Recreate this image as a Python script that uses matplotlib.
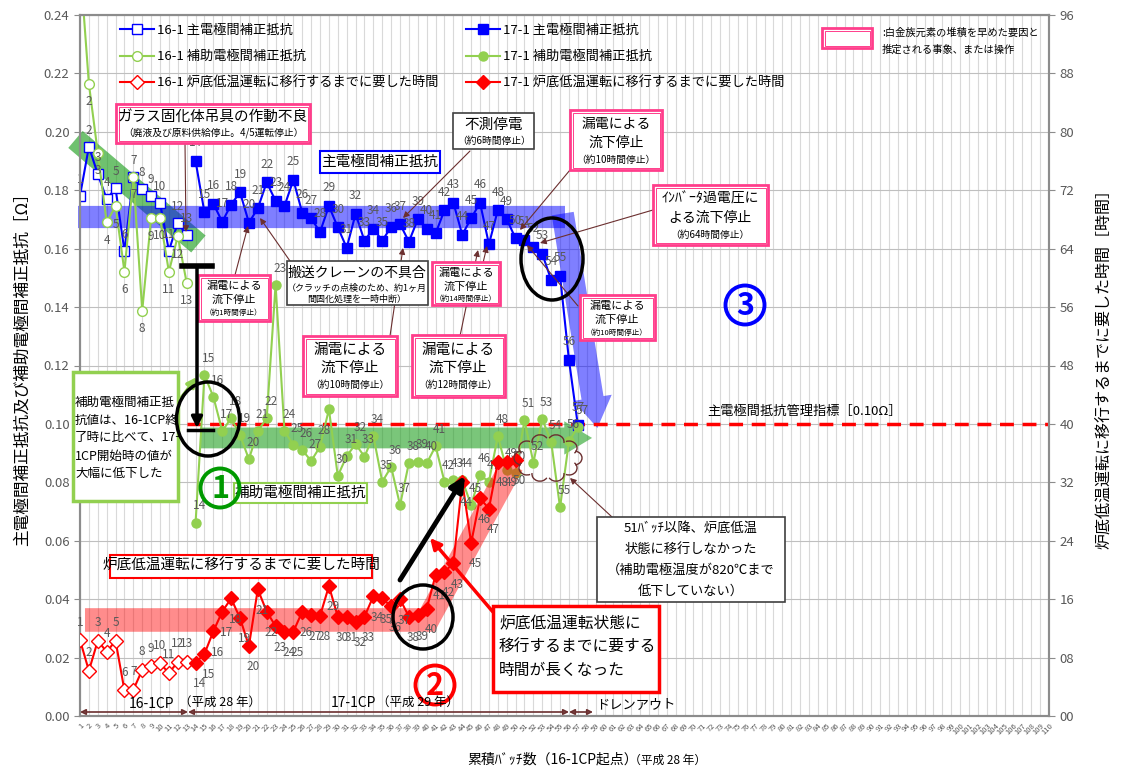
import numpy as np
import matplotlib.pyplot as plt
from matplotlib.patches import Rectangle, Ellipse, Circle, FancyArrowPatch, Arc
from matplotlib.ticker import FuncFormatter

plt.rcParams['font.family'] = ['Noto Sans CJK JP', 'DejaVu Sans']
plt.rcParams['axes.unicode_minus'] = False

# ---- data ----
batch_161 = list(range(1, 14))
main_161 = [0.1781, 0.1949, 0.1855, 0.1770, 0.1806, 0.1592, 0.1845, 0.1803, 0.1779, 0.1757,
            0.1593, 0.1689, 0.1646]
aux_161 = [0.258, 0.2164, 0.1929, 0.1690, 0.1746, 0.1521, 0.1846, 0.1388, 0.1704, 0.1706,
           0.1521, 0.1643, 0.1483]
time_161 = [10.4, 6.2, 10.3, 8.8, 10.3, 3.5, 3.6, 6.3, 6.8, 7.2, 5.9, 7.4, 7.4]

batch_171 = list(range(14, 58))
main_171 = [0.1900, 0.1724, 0.1754, 0.1692, 0.1751, 0.1793, 0.1689, 0.1738, 0.1827, 0.1764,
            0.1746, 0.1835, 0.1723, 0.1704, 0.1657, 0.1746, 0.1673, 0.1603, 0.1719, 0.1627,
            0.1669, 0.1627, 0.1675, 0.1684, 0.1624, 0.1701, 0.1669, 0.1652, 0.1732, 0.1757,
            0.1648, 0.1704, 0.1757, 0.1615, 0.1732, 0.1701, 0.1635, 0.1630, 0.1606, 0.1582,
            0.1493, 0.1507, 0.1219, 0.0996]
aux_171 = [0.0662, 0.1167, 0.1093, 0.0976, 0.1019, 0.0962, 0.0879, 0.0976, 0.1019, 0.1476,
           0.0976, 0.0928, 0.0911, 0.0873, 0.0922, 0.1050, 0.0822, 0.0890, 0.0931, 0.0888,
           0.0959, 0.0802, 0.0853, 0.0722, 0.0867, 0.0871, 0.0865, 0.0924, 0.0802, 0.0808,
           0.0808, 0.0722, 0.0825, 0.0802, 0.0959, 0.0842, 0.0833, 0.1013, 0.0867, 0.1016,
           0.0939, 0.0714, 0.0940, 0.0990]
batch_171_time = list(range(14, 51))
time_171 = [7.3, 8.5, 11.6, 14.3, 16.1, 13.4, 9.6, 17.35, 14.3, 12.3,
            11.55, 11.55, 14.3, 13.8, 13.7, 17.8, 13.6, 13.6, 12.9, 13.6,
            16.4, 16.1, 15.0, 16.0, 13.6, 13.8, 14.7, 19.3, 19.75, 20.9,
            32.1, 23.7, 29.8, 28.4, 34.8, 34.8, 35.1]

limit_value = 0.10
legend_labels = ['16-1 主電極間補正抵抗', '16-1 補助電極間補正抵抗', '16-1 炉底低温運転に移行するまでに要した時間',
                 '17-1 主電極間補正抵抗', '17-1 補助電極間補正抵抗', '17-1 炉底低温運転に移行するまでに要した時間']

BLUE = '#0000ff'
GREEN = '#92d050'
RED = '#ff0000'
GRAY = '#595959'
PINK = '#ff3d8b'
BROWN = '#6b2f2f'

fig = plt.figure(figsize=(11.27, 7.73), dpi=100)
ax = fig.add_axes([80 / 1127, 57 / 773, 969 / 1127, 701 / 773])
ax2 = ax.twinx()
ax.set_xlim(1, 110)
ax.set_ylim(0, 0.24)
ax2.set_ylim(0, 96)

ax.set_xticks(range(1, 111))
ax.set_xticklabels([str(i) for i in range(1, 111)], rotation=45, ha='right',
                   rotation_mode='anchor', fontsize=5.5, color=GRAY)
ax.set_yticks(np.arange(0, 0.241, 0.02))
ax.yaxis.set_major_formatter(FuncFormatter(lambda v, p: f'{v:.2f}'))
ax2.set_yticks(range(0, 97, 8))
ax2.yaxis.set_major_formatter(FuncFormatter(lambda v, p: f'{int(round(v)):02d}'))
ax.grid(axis='x', color='#d9d9d9', lw=0.8)
ax.grid(axis='y', color='#bfbfbf', lw=0.8)
ax.set_axisbelow(True)
for a in (ax, ax2):
    for sp in a.spines.values():
        sp.set_color('#8c8c8c')
        sp.set_linewidth(1.5)
ax.tick_params(axis='x', length=0, pad=4)
ax.tick_params(axis='y', labelsize=9.5, labelcolor=GRAY, color='#8c8c8c', length=4)
ax2.tick_params(axis='y', labelsize=9.5, labelcolor=GRAY, color='#8c8c8c', length=4)

# ---- trend bands ----
ax.plot([0.49, 14.32], [0.1974, 0.1616], color='#22a022', alpha=0.65, lw=16,
        solid_capstyle='butt', clip_on=False, zorder=1.5)
ax.plot([0.78, 55.6], [0.1708, 0.1708], color=BLUE, alpha=0.5, lw=16,
        solid_capstyle='butt', clip_on=False, zorder=1.5)
ax.add_patch(FancyArrowPatch((55.3, 0.172), (59.2, 0.0986),
                             arrowstyle='simple,head_width=28,head_length=22,tail_width=16',
                             mutation_scale=1, color=BLUE, alpha=0.5, lw=0, zorder=1.5,
                             shrinkA=0, shrinkB=0))
ax.add_patch(FancyArrowPatch((14.5, 0.0952), (58.6, 0.0952),
                             arrowstyle='simple,head_width=24,head_length=20,tail_width=15',
                             mutation_scale=1, color='#22a022', alpha=0.6, lw=0, zorder=1.5,
                             shrinkA=0, shrinkB=0))
ax2.plot([1.56, 40.1, 49.6], [13.15, 13.15, 34.4], color=RED, alpha=0.45, lw=17,
         solid_capstyle='butt', solid_joinstyle='miter', zorder=1.5)

# control limit
ax.plot([13, 110], [limit_value, limit_value], color=RED, lw=2.5, ls=(0, (4, 2.5)), zorder=3)

# ---- series ----
l1, = ax.plot(batch_161, main_161, '-s', color=BLUE, mfc='white', mec=BLUE, ms=7, lw=1.5, zorder=4)
l4, = ax.plot(batch_171, main_171, '-s', color=BLUE, ms=7, lw=1.5, zorder=4)
l2, = ax.plot(batch_161, aux_161, '-o', color=GREEN, mfc='white', mec=GREEN, ms=7, lw=1.5, zorder=4)
l5, = ax.plot(batch_171, aux_171, '-o', color=GREEN, ms=6.5, lw=1.5, zorder=4)
l3, = ax2.plot(batch_161, time_161, '-D', color=RED, mfc='white', mec=RED, ms=7, lw=1.5, zorder=4)
l6, = ax2.plot(batch_171_time, time_171, '-D', color=RED, ms=7, lw=1.5, zorder=4)


def point_labels(axis, xs, ys, dx, dy):
    for x, y in zip(xs, ys):
        axis.annotate(str(x), (x, y), xytext=(dx, dy), textcoords='offset points',
                      ha='center', va='center', fontsize=8.5, color=GRAY, zorder=6)


point_labels(ax, batch_161, main_161, 0, 12)
point_labels(ax, batch_171, main_171, 0, 13)
point_labels(ax, batch_161, aux_161, 0, -13)
point_labels(ax, batch_171, aux_171, 3, 12)
point_labels(ax2, batch_161, time_161, 0, 13)
point_labels(ax2, batch_171_time, time_171, 3, -15)

fig.legend([l1, l2, l3, l4, l5, l6], legend_labels, loc='upper left', ncol=2,
           bbox_to_anchor=(120 / 1127, 1 - 24 / 773), frameon=False, fontsize=9.5,
           handlelength=2.6, handletextpad=0.2, columnspacing=2.1, labelspacing=1.0,
           borderpad=0, borderaxespad=0)

# ---- overlay annotations in pixel coordinates ----
ov = fig.add_axes([0, 0, 1, 1], zorder=10)
ov.set_xlim(0, 1127)
ov.set_ylim(773, 0)
ov.axis('off')


def box(x0, y0, x1, y1, ec=PINK, lw=2.0, double=True):
    ov.add_patch(Rectangle((x0, y0), x1 - x0, y1 - y0, fc='white', ec=ec, lw=lw, zorder=5))
    if double:
        ov.add_patch(Rectangle((x0 + 2.5, y0 + 2.5), x1 - x0 - 5, y1 - y0 - 5, fc='none',
                               ec=ec, lw=0.7, zorder=5))


def t(x, y, s, fs, color='black', ha='center', **kw):
    ov.text(x, y, s, fontsize=fs, color=color, ha=ha, va='center', zorder=6, **kw)


def arr(x0, y0, x1, y1, color=BROWN, lw=0.8, ms=9, z=4):
    ov.annotate('', xy=(x1, y1), xytext=(x0, y0), zorder=z,
                arrowprops=dict(arrowstyle='-|>', color=color, lw=lw, mutation_scale=ms,
                                shrinkA=0, shrinkB=0))


# arrows from boxes
arr(185, 143, 186, 232)
arr(470, 151, 403, 218)
arr(570, 170, 520, 230)
arr(653, 210, 540, 243)
arr(578, 306, 527, 245)
arr(235, 275, 248, 226)
arr(290, 261, 260, 218)
arr(390, 336, 403, 248)
arr(460, 336, 478, 250)
arr(483, 263, 487, 246)
arr(612, 517, 570, 478)

# legend of pink boxes
box(822, 28, 872, 48)
t(882, 33, ':白金族元素の堆積を早めた要因と', 7.4, ha='left')
t(882, 50, '推定される事象、または操作', 7.4, ha='left')

box(116, 104, 310, 143)
t(213, 117, 'ガラス固化体吊具の作動不良', 10.5)
t(213, 133, '（廃液及び原料供給停止。4/5運転停止）', 7)

box(320, 151, 440, 173, ec=BLUE, lw=1.5, double=False)
t(380, 162, '主電極間補正抵抗', 10.5)

box(453, 113, 534, 149, ec='#404040', lw=1.2, double=False)
t(494, 125, '不測停電', 10.5)
t(494, 141, '（約6時間停止）', 7)

box(570, 110, 662, 170)
t(616, 124, '漏電による', 10)
t(616, 143, '流下停止', 10)
t(616, 160, '（約10時間停止）', 7)

box(653, 185, 768, 245)
t(710, 199, 'ｲﾝﾊﾞｰﾀ過電圧に', 10)
t(710, 218, 'よる流下停止', 10)
t(710, 235, '（約64時間停止）', 7)

box(580, 295, 655, 340)
t(617, 306, '漏電による', 8)
t(617, 320, '流下停止', 8)
t(617, 333, '（約10時間停止）', 5.5)

box(198, 275, 270, 321)
t(234, 286, '漏電による', 8)
t(234, 300, '流下停止', 8)
t(234, 313, '（約1時間停止）', 5.5)

box(287, 261, 428, 305, ec='#404040', lw=1.2, double=False)
t(357, 273, '搬送クレーンの不具合', 10)
t(357, 288, '（クラッチの点検のため、約1ヶ月', 6.5)
t(357, 299, '間固化処理を一時中断）', 6.5)

box(303, 336, 397, 396)
t(350, 350, '漏電による', 10.5)
t(350, 368, '流下停止', 10.5)
t(350, 385, '（約10時間停止）', 7)

box(432, 262, 500, 305)
t(466, 273, '漏電による', 8)
t(466, 287, '流下停止', 8)
t(466, 299, '（約14時間停止）', 5.5)

box(412, 335, 505, 397)
t(458, 350, '漏電による', 10.5)
t(458, 368, '流下停止', 10.5)
t(458, 385, '（約12時間停止）', 7)

box(73, 372, 178, 501, ec=GREEN, lw=2.5, double=False)
for i, s in enumerate(['補助電極間補正抵', '抗値は、16-1CP終', '了時に比べて、17−',
                       '1CP開始時の値が', '大幅に低下した']):
    t(75, 402 + 18 * i, s, 9, ha='left')
arr(178, 402, 197, 377, color=GREEN, lw=2.5, ms=14)

box(234, 483, 367, 503, ec=GREEN, lw=1.5, double=False)
t(300, 493, '補助電極間補正抵抗', 10.5)

box(110, 555, 372, 578, ec=RED, lw=1.5, double=False)
t(241, 566, '炉底低温運転に移行するまでに要した時間', 10.5)

box(493, 606, 659, 692, ec=RED, lw=2.5, double=False)
t(499, 624, '炉底低温運転状態に', 11.3, ha='left')
t(499, 647, '移行するまでに要する', 11.3, ha='left')
t(499, 670, '時間が長くなった', 11.3, ha='left')
arr(493, 612, 430, 538, color=RED, lw=2.5, ms=16, z=7)

box(597, 517, 785, 602, ec='#404040', lw=1.2, double=False)
t(691, 528, '51ﾊﾞｯﾁ以降、炉底低温', 9.5)
t(691, 549, '状態に移行しなかった', 9.5)
t(691, 570, '（補助電極温度が820℃まで', 9.5)
t(691, 591, '低下していない）', 9.5)

t(805, 411, '主電極間抵抗管理指標［0.10Ω］', 9.5)

# circled numbers
for (cx, cy, num, col) in [(220, 488, '1', '#009900'), (435, 685, '2', RED), (745, 305, '3', BLUE)]:
    ov.add_patch(Circle((cx, cy), 19.5, fc='none', ec=col, lw=2.8, zorder=6))
    t(cx, cy + 1, num, 22, color=col, fontweight='bold')

# black ellipses
for (cx, cy, w, h) in [(208, 419, 63, 74), (423, 617, 60, 64), (552, 259, 62, 82)]:
    ov.add_patch(Ellipse((cx, cy), w, h, fc='none', ec='black', lw=2.5, zorder=6))

# T-shaped arrow (drop of auxiliary resistance)
ov.plot([182, 212], [266, 266], color='black', lw=4, zorder=6)
arr(197, 266, 197, 428, color='black', lw=2.5, ms=16, z=6)
ov.plot([188, 213], [430, 430], color='black', lw=2.5, zorder=6)

# thick black arrow toward the rising time
arr(400, 580, 465, 476, color='black', lw=3.5, ms=22, z=6)

# cloud mark
ccx, ccy, rx, ry = 548, 458, 26, 17
for ang in np.arange(0, 360, 36):
    th = np.deg2rad(ang)
    px = ccx + rx * np.cos(th)
    py = ccy - ry * np.sin(th)
    ov.add_patch(Arc((px, py), 16, 14, theta1=-ang - 80, theta2=-ang + 80,
                     color=BROWN, lw=1, zorder=6))

# period arrows at the bottom
for (xa, xb) in [(80, 188), (188, 569), (569, 593)]:
    ov.annotate('', xy=(xa, 712), xytext=(xb, 712),
                arrowprops=dict(arrowstyle='<|-|>', color=BROWN, lw=1.2, mutation_scale=8,
                                shrinkA=0, shrinkB=0, fill=False))
t(152, 704, '16-1CP', 10)
t(220, 702, '（平成 28 年）', 9)
t(353, 703, '17-1CP', 10)
t(418, 702, '（平成 29 年）', 9)
t(596, 705, 'ドレンアウト', 9.5, ha='left')

# axis titles
t(22, 365, '主電極間補正抵抗及び補助電極間補正抵抗［Ω］', 12, rotation=90)
t(1105, 365, '炉底低温運転に移行するまでに要した時間［時間］', 11.5, rotation=90)
t(553, 760, '累積ﾊﾞｯﾁ数（16-1CP起点）', 10)
t(668, 760, '（平成 28 年）', 8.5)

fig.savefig('out.png', dpi=100)
